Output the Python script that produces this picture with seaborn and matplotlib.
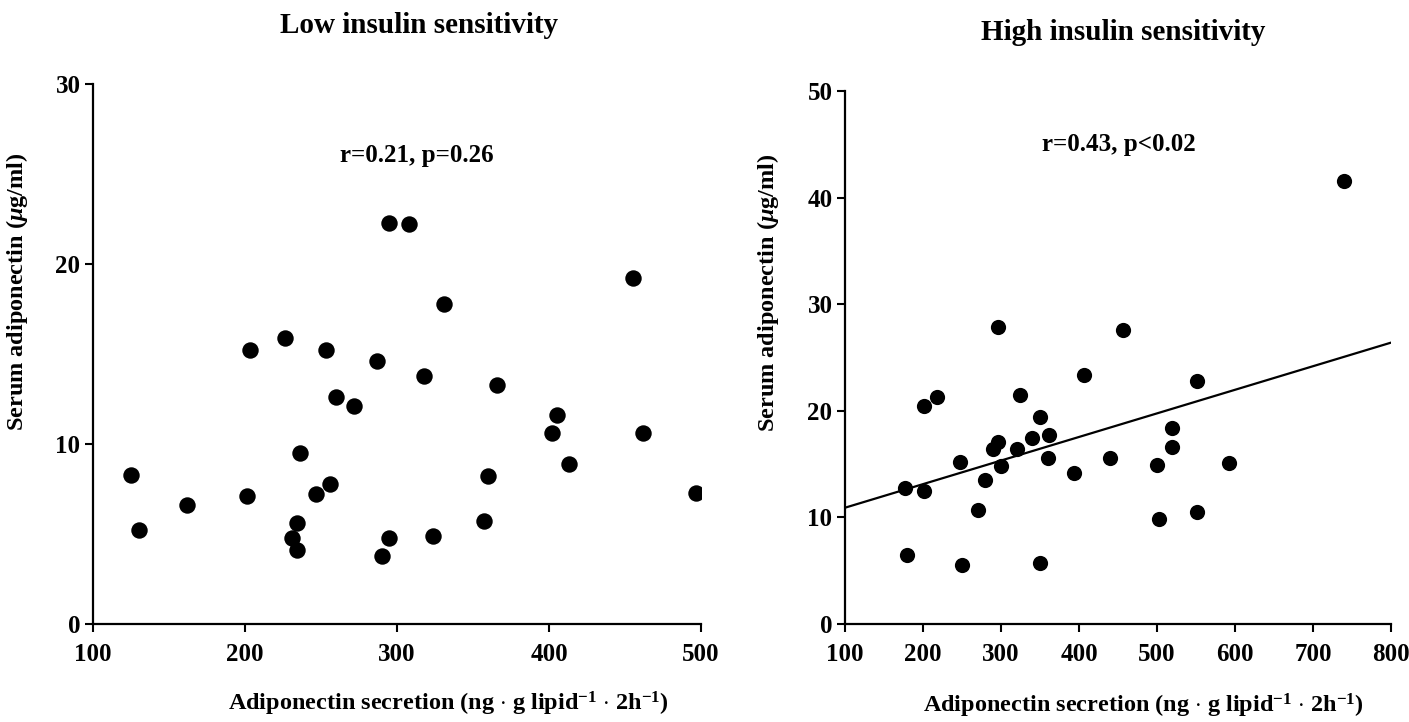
import numpy as np
import matplotlib
matplotlib.use("Agg")
import matplotlib.pyplot as plt
import seaborn as sns

# Low insulin sensitivity group
low_secretion = [125, 130, 162, 201, 203, 226, 253, 231, 234, 234, 236, 247, 256,
                 260, 272, 287, 295, 308, 290, 295, 318, 331, 324, 366, 357, 360,
                 402, 405, 413, 455, 462, 497]
low_adipo = [8.3, 5.2, 6.6, 7.1, 15.2, 15.9, 15.2, 4.8, 5.6, 4.1, 9.5, 7.2, 7.8,
             12.6, 12.1, 14.6, 22.3, 22.2, 3.8, 4.8, 13.8, 17.8, 4.9, 13.3, 5.7, 8.2,
             10.6, 11.6, 8.9, 19.2, 10.6, 7.3]

# High insulin sensitivity group
high_secretion = [740, 296, 456, 406, 551, 324, 218, 201, 350, 519, 340, 361, 296,
                  290, 320, 519, 247, 360, 300, 440, 500, 592, 393, 280, 177, 201,
                  270, 502, 551, 180, 250, 350]
high_adipo = [41.6, 27.9, 27.6, 23.4, 22.8, 21.5, 21.3, 20.5, 19.4, 18.4, 17.5, 17.7,
              17.1, 16.4, 16.4, 16.6, 15.2, 15.6, 14.8, 15.6, 14.9, 15.1, 14.2, 13.5,
              12.8, 12.5, 10.7, 9.9, 10.5, 6.5, 5.5, 5.7]

titles = ["Low insulin sensitivity", "High insulin sensitivity"]
stats = ["r=0.21, p=0.26", "r=0.43, p<0.02"]

sns.set_style("ticks")
plt.rcParams["font.family"] = ["Liberation Serif", "DejaVu Serif"]
plt.rcParams["font.weight"] = "bold"
plt.rcParams["text.color"] = "black"
plt.rcParams["axes.labelcolor"] = "black"
plt.rcParams["mathtext.fontset"] = "custom"
plt.rcParams["mathtext.rm"] = "Liberation Serif:bold"
plt.rcParams["mathtext.it"] = "Liberation Serif:italic:bold"
plt.rcParams["mathtext.bf"] = "Liberation Serif:bold"

fig = plt.figure(figsize=(14.09, 7.22), dpi=100)
ax1 = fig.add_axes([0.066, 0.1357, 0.4315, 0.748])
ax2 = fig.add_axes([0.5997, 0.1357, 0.3875, 0.738])

xlab = r"Adiponectin secretion (ng $\cdot$ g lipid$^{-1}$ $\cdot$ 2h$^{-1}$)"
ylab = r"Serum adiponectin ($\mu$g/ml)"

# left panel
sns.scatterplot(x=low_secretion, y=low_adipo, ax=ax1, s=140, color="black",
                edgecolor="black", linewidth=0)
ax1.set_xlim(100, 500)
ax1.set_ylim(0, 30)
ax1.set_xticks([100, 200, 300, 400, 500])
ax1.set_yticks([0, 10, 20, 30])
ax1.text(313, 26, stats[0], ha="center", va="center", fontsize=18, fontweight="bold")
ax1.text(0.537, 1.108, titles[0], transform=ax1.transAxes, ha="center", va="center",
         fontsize=21, fontweight="bold")
ax1.set_xlabel(xlab, fontsize=17.5, fontweight="bold")
ax1.set_ylabel(ylab, fontsize=17.5, fontweight="bold")
ax1.xaxis.set_label_coords(0.584, -0.122)
ax1.yaxis.set_label_coords(-0.103, 0.615)

# right panel
ax2.set_xlim(100, 800)
ax2.set_ylim(0, 50)
sns.scatterplot(x=high_secretion, y=high_adipo, ax=ax2, s=120, color="black",
                edgecolor="black", linewidth=0)
slope, intercept = np.polyfit(high_secretion, high_adipo, 1)
xs = np.array([100, 800])
ax2.plot(xs, intercept + slope * xs, color="black", lw=1.6)
ax2.set_xticks([100, 200, 300, 400, 500, 600, 700, 800])
ax2.set_yticks([0, 10, 20, 30, 40, 50])
ax2.text(451, 45, stats[1], ha="center", va="center", fontsize=18, fontweight="bold")
ax2.text(0.509, 1.11, titles[1], transform=ax2.transAxes, ha="center", va="center",
         fontsize=21, fontweight="bold")
ax2.set_xlabel(xlab, fontsize=17.5, fontweight="bold")
ax2.set_ylabel(ylab, fontsize=17.5, fontweight="bold")
ax2.xaxis.set_label_coords(0.546, -0.128)
ax2.yaxis.set_label_coords(-0.117, 0.621)

for ax in (ax1, ax2):
    sns.despine(ax=ax)
    for sp in ("left", "bottom"):
        ax.spines[sp].set_linewidth(1.6)
        ax.spines[sp].set_color("black")
    ax.tick_params(direction="out", length=6, width=1.5, labelsize=18, colors="black")
    ax.tick_params(axis="x", pad=8)
    ax.tick_params(axis="y", pad=3)
    for lbl in ax.get_xticklabels() + ax.get_yticklabels():
        lbl.set_fontweight("bold")

fig.savefig("out.png", dpi=100)
